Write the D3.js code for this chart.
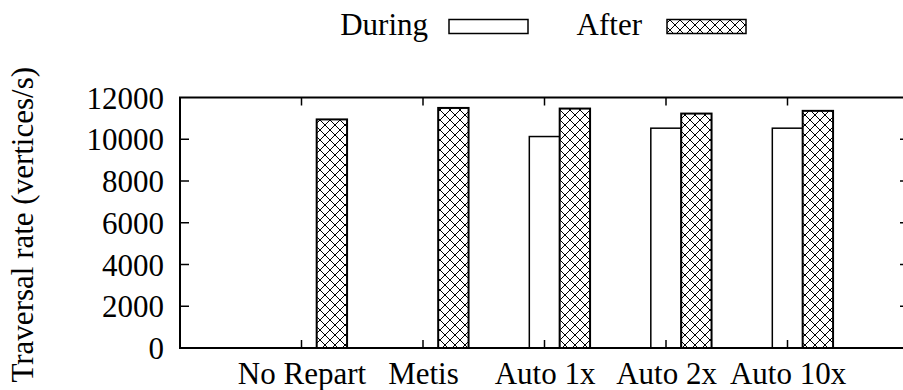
<!DOCTYPE html>
<html>
<head>
<meta charset="utf-8">
<script src="https://cdn.jsdelivr.net/npm/d3@7"></script>
<style>
  html, body { margin: 0; padding: 0; background: #fff; }
  svg { display: block; }
  text { font-family: "Liberation Serif", "Times New Roman", serif; fill: #000; }
</style>
</head>
<body>
<svg id="chart" width="903" height="390"></svg>
<script>
// Traversal rate per partitioning strategy, during and after repartitioning
const categories = ["No Repart", "Metis", "Auto 1x", "Auto 2x", "Auto 10x"];
const duringValues = [0, 0, 10130, 10530, 10530];
const afterValues = [10950, 11500, 11470, 11230, 11360];
const yTicks = [0, 2000, 4000, 6000, 8000, 10000, 12000];
const seriesNames = ["During", "After"];

const W = 903, H = 390;
const plot = { left: 180, right: 909, top: 97.5, bottom: 348 };
const fontSize = 31;

const svg = d3.select("#chart");

// cross-hatch fill
const defs = svg.append("defs");
const pat = defs.append("pattern")
  .attr("id", "xhatch")
  .attr("patternUnits", "userSpaceOnUse")
  .attr("width", 10).attr("height", 10);
pat.append("rect").attr("width", 10).attr("height", 10).attr("fill", "#fff");
pat.append("path").attr("d", "M0,0L10,10M10,0L0,10")
  .attr("stroke", "#000").attr("stroke-width", 1).attr("fill", "none");

// cluster index -> x, value -> y
const x = d3.scaleLinear().domain([-1, 5]).range([plot.left, plot.right]);
const y = d3.scaleLinear().domain([0, 12000]).range([plot.bottom, plot.top]);
const barW = 0.25;

const g = svg.append("g");

// bars
const bars = g.append("g");
bars.selectAll("rect.during")
  .data(duringValues)
  .join("rect")
  .attr("class", "during")
  .attr("x", (d, i) => x(i - barW / 2))
  .attr("width", (d, i) => x(i + barW / 2) - x(i - barW / 2))
  .attr("y", d => y(d))
  .attr("height", d => y(0) - y(d))
  .attr("fill", "#fff")
  .attr("stroke", "#000")
  .attr("stroke-width", 1.5);

bars.selectAll("rect.after")
  .data(afterValues)
  .join("rect")
  .attr("class", "after")
  .attr("x", (d, i) => x(i + barW / 2))
  .attr("width", (d, i) => x(i + 1.5 * barW) - x(i + barW / 2))
  .attr("y", d => y(d))
  .attr("height", d => y(0) - y(d))
  .attr("fill", "url(#xhatch)")
  .attr("stroke", "#000")
  .attr("stroke-width", 2);

// left axis with labels
const yAxis = d3.axisLeft(y).tickValues(yTicks).tickFormat(d3.format("d"))
  .tickSize(0).tickPadding(16);
const ya = g.append("g").attr("transform", `translate(${plot.left},0)`).call(yAxis);
ya.select(".domain").remove();
ya.selectAll("text")
  .attr("font-size", fontSize)
  .attr("dy", "0.34em");

// inward ticks, left and right
const tickLen = 9;
g.append("g").selectAll("line.yl")
  .data(yTicks.slice(1, -1))
  .join("line")
  .attr("x1", plot.left).attr("x2", plot.left + tickLen)
  .attr("y1", d => y(d)).attr("y2", d => y(d))
  .attr("stroke", "#000").attr("stroke-width", 1.5);
g.append("g").selectAll("line.yr")
  .data(yTicks.slice(1, -1))
  .join("line")
  .attr("x1", plot.right).attr("x2", plot.right - tickLen)
  .attr("y1", d => y(d)).attr("y2", d => y(d))
  .attr("stroke", "#000").attr("stroke-width", 1.5);

// category axis
const xAxis = d3.axisBottom(x)
  .tickValues(d3.range(categories.length))
  .tickFormat(i => categories[i])
  .tickSize(0).tickPadding(14);
const xa = g.append("g").attr("transform", `translate(0,${plot.bottom})`).call(xAxis);
xa.select(".domain").remove();
xa.selectAll("text")
  .attr("font-size", fontSize)
  .attr("dy", "0.71em");

g.append("g").selectAll("line.xb")
  .data(d3.range(categories.length))
  .join("line")
  .attr("x1", d => x(d)).attr("x2", d => x(d))
  .attr("y1", plot.bottom).attr("y2", plot.bottom - tickLen + 1)
  .attr("stroke", "#000").attr("stroke-width", 1.5);
g.append("g").selectAll("line.xt")
  .data(d3.range(categories.length))
  .join("line")
  .attr("x1", d => x(d)).attr("x2", d => x(d))
  .attr("y1", plot.top).attr("y2", plot.top + tickLen - 1)
  .attr("stroke", "#000").attr("stroke-width", 1.5);

// frame
g.append("rect")
  .attr("x", plot.left).attr("y", plot.top)
  .attr("width", plot.right - plot.left)
  .attr("height", plot.bottom - plot.top)
  .attr("fill", "none").attr("stroke", "#000").attr("stroke-width", 2);

// y title
svg.append("text")
  .attr("transform", `translate(33,${(plot.top + plot.bottom) / 2 + 2}) rotate(-90)`)
  .attr("text-anchor", "middle")
  .attr("font-size", fontSize)
  .text("Traversal rate (vertices/s)");

// legend
const legend = svg.append("g");
const legendItems = [
  { name: seriesNames[0], textEnd: 428, box: 449, fill: "#fff" },
  { name: seriesNames[1], textEnd: 642, box: 667, fill: "url(#xhatch)" }
];
legendItems.forEach(it => {
  legend.append("text")
    .attr("x", it.textEnd).attr("y", 35)
    .attr("text-anchor", "end")
    .attr("font-size", fontSize)
    .text(it.name);
  legend.append("rect")
    .attr("x", it.box).attr("y", 19.5)
    .attr("width", 79).attr("height", 14)
    .attr("fill", it.fill)
    .attr("stroke", "#000").attr("stroke-width", 1.5);
});
</script>
</body>
</html>
